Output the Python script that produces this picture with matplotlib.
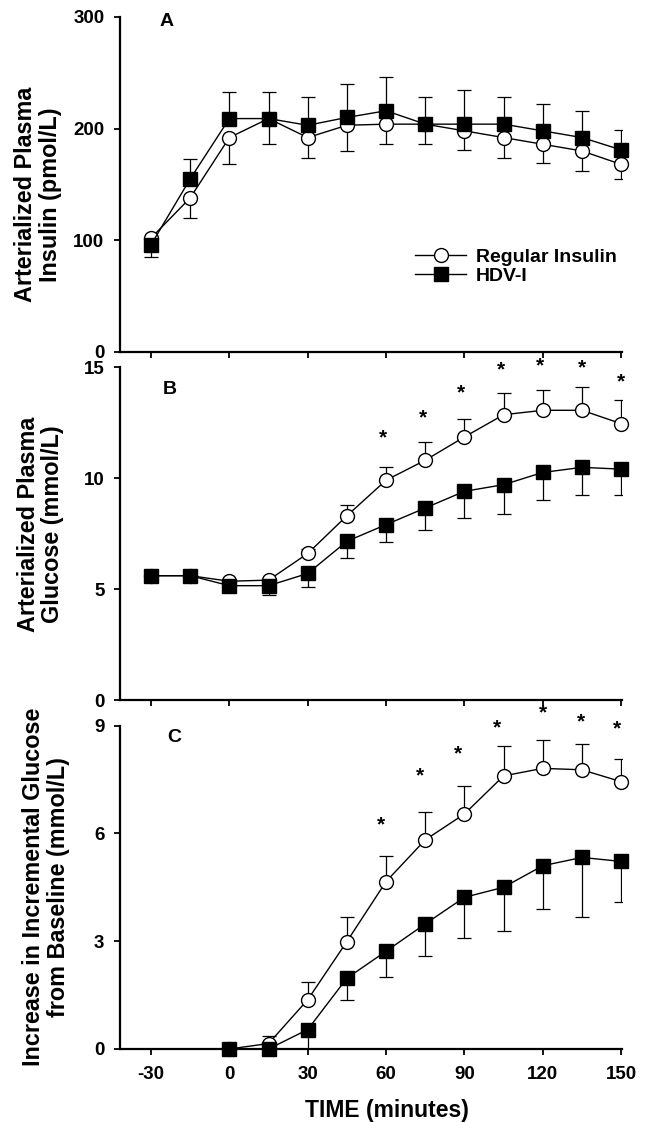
import matplotlib
matplotlib.use("Agg")
import matplotlib.pyplot as plt
import numpy as np

plt.rcParams['font.family'] = ['Liberation Sans', 'DejaVu Sans']
plt.rcParams['font.weight'] = 'bold'
plt.rcParams['axes.unicode_minus'] = False

# time points (minutes)
time_ab = [-30, -15, 0, 15, 30, 45, 60, 75, 90, 105, 120, 135, 150]
time_c = [0, 15, 30, 45, 60, 75, 90, 105, 120, 135, 150]
xticks = [-30, 0, 30, 60, 90, 120, 150]

# signed error: + drawn upward, - drawn downward
# A: insulin (pmol/L)
ins_reg = [102, 138, 192, 209, 192, 203, 204, 204, 198, 192, 186, 180, 168]
ins_reg_err = [0, -18, -24, -23, -18, -23, -18, -18, -17, -18, -17, -18, -13]
ins_hdv = [96, 155, 209, 209, 203, 210, 216, 204, 204, 204, 198, 192, 181]
ins_hdv_err = [-11, 18, 24, 24, 25, 30, 30, 24, 31, 24, 24, 24, 18]

# B: glucose (mmol/L)
glu_reg = [5.6, 5.6, 5.35, 5.4, 6.6, 8.3, 9.9, 10.8, 11.85, 12.85, 13.05, 13.05, 12.45]
glu_reg_err = [0, 0, 0, 0, 0.2, 0.5, 0.6, 0.8, 0.8, 0.97, 0.93, 1.07, 1.05]
glu_hdv = [5.6, 5.6, 5.15, 5.15, 5.7, 7.15, 7.9, 8.65, 9.4, 9.7, 10.25, 10.48, 10.4]
glu_hdv_err = [0, 0, 0, -0.4, -0.63, -0.74, -0.8, -1.0, -1.2, -1.3, -1.26, -1.23, -1.16]
glu_star_x = [59, 74, 88.5, 104, 119, 135, 150]
glu_star_y = [11.8, 12.7, 13.85, 14.85, 15.05, 14.95, 14.35]

# C: incremental glucose (mmol/L)
inc_reg = [0.0, 0.15, 1.37, 2.99, 4.66, 5.82, 6.54, 7.6, 7.81, 7.77, 7.44]
inc_reg_err = [0, 0.22, 0.49, 0.67, 0.72, 0.77, 0.79, 0.83, 0.79, 0.71, 0.62]
inc_hdv = [0.0, 0.0, 0.54, 1.97, 2.72, 3.48, 4.22, 4.5, 5.1, 5.33, 5.22]
inc_hdv_err = [0, 0, -0.54, -0.6, -0.73, -0.9, -1.12, -1.23, -1.21, -1.67, -1.12]
inc_star_x = [58, 73, 87.5, 102.5, 120, 134.5, 148.5]
inc_star_y = [6.25, 7.6, 8.2, 8.95, 9.35, 9.1, 8.9]


def split_err(err):
    err = np.asarray(err, dtype=float)
    return [np.where(err < 0, -err, 0), np.where(err > 0, err, 0)]


def draw_series(ax, x, y, err, marker, face, label):
    ax.errorbar(x, y, yerr=split_err(err), fmt='none', ecolor='black',
                elinewidth=0.9, capsize=5, capthick=0.9, zorder=2)
    ax.plot(x, y, color='black', lw=1.0, marker=marker,
            markersize=10 if marker == 'o' else 9.5,
            markerfacecolor=face, markeredgecolor='black', markeredgewidth=1.0,
            label=label, zorder=3, clip_on=False)


def style_axis(ax, ylim, yticks, show_xlabels):
    ax.set_xlim(-42, 150.5)
    ax.set_ylim(*ylim)
    ax.set_yticks(yticks)
    ax.set_xticks(xticks)
    ax.spines['top'].set_visible(False)
    ax.spines['right'].set_visible(False)
    ax.spines['left'].set_linewidth(1.6)
    ax.spines['bottom'].set_linewidth(1.6)
    ax.tick_params(direction='out', length=4, width=1.3, labelsize=13.5)
    ax.tick_params(axis='y', pad=7)
    ax.tick_params(axis='x', pad=8)
    if not show_xlabels:
        ax.set_xticklabels([])
    for lab in ax.get_xticklabels() + ax.get_yticklabels():
        lab.set_fontweight('bold')


def add_ylabel(ax, text, x, y):
    ax.set_ylabel(text, fontsize=16.8, fontweight='bold', linespacing=1.08)
    ax.yaxis.set_label_coords(x, y)


fig = plt.figure(figsize=(6.47, 11.22), dpi=100)
left, width = 0.185, 0.777
axA = fig.add_axes([left, 0.6863, width, 0.2986])
axB = fig.add_axes([left, 0.3761, width, 0.2968])
axC = fig.add_axes([left, 0.0651, width, 0.2882])

# panel A
draw_series(axA, time_ab, ins_reg, ins_reg_err, 'o', 'white', 'Regular Insulin')
draw_series(axA, time_ab, ins_hdv, ins_hdv_err, 's', 'black', 'HDV-I')
style_axis(axA, (0, 300), [0, 100, 200, 300], False)
add_ylabel(axA, 'Arterialized Plasma\nInsulin (pmol/L)', -0.115, 0.469)
axA.text(0.094, 0.985, 'A', transform=axA.transAxes, fontsize=14, fontweight='bold',
         ha='center', va='center')
axA.legend(loc='center left', bbox_to_anchor=(0.588, 0.255), frameon=False,
           handlelength=2.6, handletextpad=0.5, labelspacing=0.08,
           borderpad=0, borderaxespad=0, prop={'weight': 'bold', 'size': 14})

# panel B
draw_series(axB, time_ab, glu_reg, glu_reg_err, 'o', 'white', 'Regular Insulin')
draw_series(axB, time_ab, glu_hdv, glu_hdv_err, 's', 'black', 'HDV-I')
style_axis(axB, (0, 15), [0, 5, 10, 15], False)
add_ylabel(axB, 'Arterialized Plasma\nGlucose (mmol/L)', -0.11, 0.528)
axB.text(0.100, 0.931, 'B', transform=axB.transAxes, fontsize=14, fontweight='bold',
         ha='center', va='center')
for sx, sy in zip(glu_star_x, glu_star_y):
    axB.text(sx, sy, '*', fontsize=15, fontweight='bold', ha='center', va='center',
             clip_on=False)

# panel C
draw_series(axC, time_c, inc_reg, inc_reg_err, 'o', 'white', 'Regular Insulin')
draw_series(axC, time_c, inc_hdv, inc_hdv_err, 's', 'black', 'HDV-I')
style_axis(axC, (0, 9), [0, 3, 6, 9], True)
add_ylabel(axC, 'Increase in Incremental Glucose\nfrom Baseline (mmol/L)', -0.099, 0.5)
axC.set_xlabel('TIME (minutes)', fontsize=16.5, fontweight='bold')
axC.xaxis.set_label_coords(0.532, -0.155)
axC.text(0.108, 0.963, 'C', transform=axC.transAxes, fontsize=14, fontweight='bold',
         ha='center', va='center')
for sx, sy in zip(inc_star_x, inc_star_y):
    axC.text(sx, sy, '*', fontsize=15, fontweight='bold', ha='center', va='center',
             clip_on=False)

fig.savefig('out.png', dpi=100)
